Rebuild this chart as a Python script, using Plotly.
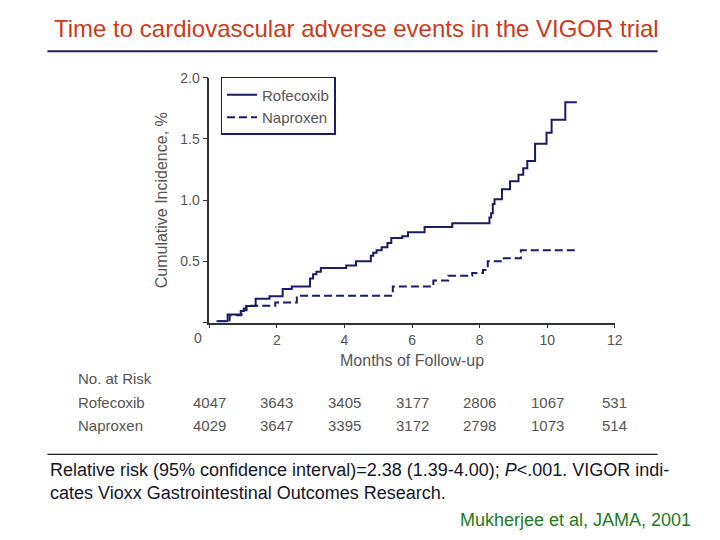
import plotly.graph_objects as go

# ---- data ----
rofecoxib_months = [0.21, 0.54, 0.93, 1.02, 1.09, 1.37, 1.78, 2.17, 2.44, 2.98, 3.07, 3.17, 3.30,
                    4.05, 4.34, 4.78, 4.85, 4.95, 5.10, 5.27, 5.385, 5.71, 5.88, 6.37, 7.19,
                    8.29, 8.34, 8.39, 8.44, 8.66, 8.90, 9.15, 9.29, 9.41, 9.64, 9.98, 10.13,
                    10.535, 10.875]
rofecoxib_incidence = [0.01, 0.065, 0.095, 0.115, 0.135, 0.195, 0.214, 0.275, 0.295, 0.36, 0.395,
                       0.415, 0.445, 0.465, 0.50, 0.545, 0.57, 0.59, 0.615, 0.65, 0.69, 0.705,
                       0.737, 0.78, 0.812, 0.858, 0.893, 0.968, 1.008, 1.088, 1.155, 1.207, 1.26,
                       1.32, 1.461, 1.55, 1.657, 1.80, 1.80]

naproxen_months = [0.25, 0.60, 0.95, 1.10, 1.95, 2.59, 5.43, 6.63, 7.07, 7.78, 8.10, 8.24,
                   8.66, 9.22, 10.875]
naproxen_incidence = [0.01, 0.06, 0.10, 0.137, 0.163, 0.22, 0.295, 0.343, 0.383, 0.405, 0.43,
                      0.50, 0.525, 0.59, 0.59]

risk_months = [0, 2, 4, 6, 8, 10, 12]
risk_rofecoxib = [4047, 3643, 3405, 3177, 2806, 1067, 531]
risk_naproxen = [4029, 3647, 3395, 3172, 2798, 1073, 514]

x_ticks = [0, 2, 4, 6, 8, 10, 12]
x_tick_text = ["", "2", "4", "6", "8", "10", "12"]
y_ticks = [0, 0.5, 1.0, 1.5, 2.0]
y_tick_text = ["", "0.5", "1.0", "1.5", "2.0"]

# ---- layout helpers ----
W, H = 720, 540
def px(x):
    return x / W
def py(y):
    return 1 - y / H

NAVY = "#1b1b66"
GRAY = "#555555"
FONT = "Liberation Sans, Arial, sans-serif"

fig = go.Figure()
fig.add_trace(go.Scatter(x=rofecoxib_months, y=rofecoxib_incidence, mode="lines",
                         line=dict(color=NAVY, width=2, shape="hv"), name="Rofecoxib"))
fig.add_trace(go.Scatter(x=naproxen_months, y=naproxen_incidence, mode="lines",
                         line=dict(color=NAVY, width=2, shape="hv", dash="8px,4px"), name="Naproxen"))

annotations = []
annotations.append(dict(x=px(360), y=py(21), xref="paper", yref="paper", showarrow=False,
                        text="Time to cardiovascular adverse events in the VIGOR trial",
                        font=dict(family=FONT, size=24, color="#cc3b1b"), xanchor="center", yanchor="middle"))
annotations.append(dict(x=px(200), y=py(335), xref="paper", yref="paper", showarrow=False,
                        text="0", font=dict(family=FONT, size=14, color=GRAY),
                        xanchor="center", yanchor="middle"))
annotations.append(dict(x=px(163), y=py(195), xref="paper", yref="paper", showarrow=False,
                        text="Cumulative Incidence, %", textangle=-90,
                        font=dict(family=FONT, size=16, color=GRAY), xanchor="center", yanchor="middle"))
annotations.append(dict(x=px(417), y=py(358), xref="paper", yref="paper", showarrow=False,
                        text="Months of Follow-up",
                        font=dict(family=FONT, size=16, color=GRAY), xanchor="center", yanchor="middle"))
annotations.append(dict(x=px(77), y=py(376), xref="paper", yref="paper", showarrow=False,
                        text="No. at Risk", font=dict(family=FONT, size=15, color=GRAY),
                        xanchor="left", yanchor="middle"))
for label, yy, vals in [("Rofecoxib", 400, risk_rofecoxib), ("Naproxen", 424, risk_naproxen)]:
    annotations.append(dict(x=px(77), y=py(yy), xref="paper", yref="paper", showarrow=False,
                            text=label, font=dict(family=FONT, size=15, color=GRAY),
                            xanchor="left", yanchor="middle"))
    for m, v in zip(risk_months, vals):
        annotations.append(dict(x=m, y=py(yy), xref="x", yref="paper", showarrow=False,
                                text=str(v), font=dict(family=FONT, size=15, color=GRAY),
                                xanchor="center", yanchor="middle"))
annotations.append(dict(x=px(49), y=py(481), xref="paper", yref="paper", showarrow=False,
                        text="Relative risk (95% confidence interval)=2.38 (1.39-4.00); <i>P</i>&lt;.001. VIGOR indi-<br>cates Vioxx Gastrointestinal Outcomes Research.",
                        font=dict(family=FONT, size=18, color="#15152a"), align="left",
                        xanchor="left", yanchor="middle"))
annotations.append(dict(x=px(701), y=py(520), xref="paper", yref="paper", showarrow=False,
                        text="Mukherjee et al, JAMA, 2001",
                        font=dict(family=FONT, size=18, color="#1f7a1f"), xanchor="right", yanchor="middle"))

shapes = [
    dict(type="line", xref="paper", yref="paper", x0=px(48), x1=px(665), y0=py(44), y1=py(44),
         line=dict(color="#22224a", width=2)),
    dict(type="line", xref="paper", yref="paper", x0=px(48), x1=px(665), y0=py(453), y1=py(453),
         line=dict(color="#222222", width=1.2)),
]

fig.update_layout(
    width=W, height=H, margin=dict(l=0, r=0, t=0, b=0),
    paper_bgcolor="white", plot_bgcolor="white",
    font=dict(family=FONT, color=GRAY),
    xaxis=dict(domain=[px(211.7), px(621.7)], range=[0, 12], tickvals=x_ticks, ticktext=x_tick_text,
               showgrid=False, zeroline=False, showline=True, linecolor="#333333", linewidth=1.5,
               ticks="outside", ticklen=4, tickcolor="#333333", tickfont=dict(size=14, color=GRAY),
               fixedrange=True),
    yaxis=dict(domain=[py(319.3), py(70.7)], range=[0, 2], tickvals=y_ticks, ticktext=y_tick_text,
               showgrid=False, zeroline=False, showline=True, linecolor="#333333", linewidth=1.5,
               ticks="outside", ticklen=5, tickcolor="#333333", tickfont=dict(size=14, color=GRAY),
               fixedrange=True),
    showlegend=True,
    legend=dict(x=px(223), y=py(70), xanchor="left", yanchor="top",
                bordercolor=NAVY, borderwidth=1.5, bgcolor="white",
                font=dict(family=FONT, size=15, color=GRAY), tracegroupgap=0),
    annotations=annotations, shapes=shapes,
)

fig.write_html("out.html", config={"displayModeBar": False},
               post_script="document.body.style.margin='0';document.body.style.overflow='hidden';")
